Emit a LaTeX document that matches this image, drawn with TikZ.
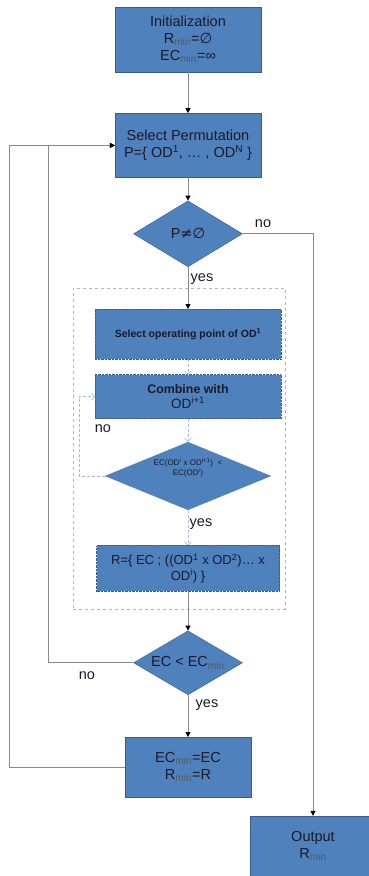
\documentclass[tikz,border=0pt]{standalone}
\usepackage{fontspec}
\setmainfont{Liberation Sans}
\newfontfamily\symfont{DejaVu Sans}
\usepackage{xcolor}
\usetikzlibrary{shapes.geometric, arrows.meta, positioning}
\definecolor{boxblue}{HTML}{4F81BD}
\definecolor{boxedge}{HTML}{385D8A}
\definecolor{linegray}{HTML}{8A8A8A}
\definecolor{innerline}{HTML}{A9BCD4}
\definecolor{framegray}{HTML}{B4B4B4}
\definecolor{txt}{HTML}{1A1A2A}
\newcommand{\mn}{\textsubscript{\textcolor{black!65}{min}}}
\newcommand{\empt}{{\symfont ∅}}
\tikzstyle{block} = [rectangle, minimum width=146pt, minimum height=65pt, align=center, draw=boxedge, fill=boxblue, text=txt, font=\fontsize{14.5}{17}\selectfont, inner sep=2pt]
\tikzstyle{subblock} = [rectangle, minimum width=186pt, align=center, draw=boxedge, densely dotted, fill=boxblue, text=txt, inner sep=2pt]
\tikzstyle{decision} = [diamond, minimum width=109pt, minimum height=66pt, aspect=1.65, inner sep=0pt, draw=boxedge, fill=boxblue, text=txt, font=\fontsize{14.5}{17}\selectfont]
\tikzstyle{frame} = [rectangle, draw=framegray, dashed, line width=0.6pt]
\tikzstyle{arrow} = [draw=linegray, line width=0.8pt, -{Triangle[length=5pt,width=5pt,color=black]}]
\tikzstyle{innerarrow} = [draw=innerline, densely dashed, line width=0.6pt, -{Straight Barb[length=3pt,width=7pt]}]
\tikzstyle{lbl} = [font=\fontsize{14.5}{17}\selectfont, text=txt, inner sep=0pt]

\begin{document}
\begin{tikzpicture}[x=1pt, y=-1pt]
    \useasboundingbox (0,0) rectangle (369,876);

    \node[block] (init) at (188,39.5) {Initialization\\R\mn=\empt\\EC\mn=∞};
    \node[block, minimum height=64pt, below=41pt of init] (sel) {Select Permutation\\P=\{ OD\textsuperscript{1}, \dots\ , OD\textsuperscript{N} \}};
    \node[decision, below=23pt of sel] (dP) {P{\symfont ≠∅}};

    % inner loop
    \node[frame, minimum width=212pt, minimum height=321pt] (grp) at (179,448.5) {};
    \node[subblock, minimum height=50pt, font=\bfseries\fontsize{10.5}{13}\selectfont, below=42pt of dP] (opt) {Select operating point of OD\textsuperscript{1}};
    \node[subblock, minimum height=44pt, font=\fontsize{13.5}{15}\selectfont, below=15pt of opt] (comb) {{\bfseries\fontsize{12.4}{15}\selectfont Combine with}\\OD\textsuperscript{i+1}};
    \node[decision, densely dotted, minimum width=166pt, minimum height=68pt, aspect=2.4, below=23pt of comb] (dEC) {};
    \node[font=\fontsize{8}{10}\selectfont, text=txt, align=center] (dECtxt) at ([yshift=8pt]dEC.center) {EC(OD\textsuperscript{i} x OD\textsuperscript{i+1})~~<\\EC(OD\textsuperscript{i})};
    \node[subblock, minimum width=183pt, minimum height=46pt, font=\fontsize{13}{15.5}\selectfont, below=35pt of dEC] (res) {R=\{ EC ; ((OD\textsuperscript{1} x OD\textsuperscript{2})… x\\OD\textsuperscript{i}) \}};

    \node[decision, minimum height=64pt, below=39pt of res] (dmin) {EC < EC\mn};
    \node[block, minimum width=126pt, minimum height=60pt, below=42pt of dmin] (upd) {EC\mn=EC\\R\mn=R};
    \node[block, minimum width=126pt, minimum height=60pt] (out) at (313,846) {Output\\R\mn};

    \node[lbl] (noP) at (263,224) {no};
    \node[lbl] (yesP) at (202,279) {yes};
    \node[lbl] (noEC) at (103,429) {no};
    \node[lbl] (yesEC) at (201,524) {yes};
    \node[lbl] (nomin) at (87,676) {no};
    \node[lbl] (yesmin) at (207,705) {yes};

    \draw[arrow] (init) -- (sel);
    \draw[arrow] (sel) -- (dP);
    \draw[arrow] (dP) -- (opt);
    \draw[arrow] (dP.east) -| (out.north);
    \draw[innerarrow] (opt) -- (comb);
    \draw[innerarrow] (comb) -- (dEC);
    \draw[innerarrow] (dEC.west) -- ++(-26,0) |- (comb.west);
    \draw[innerarrow] (dEC) -- (res);
    \draw[arrow] (res) -- (dmin);
    \draw[arrow] (dmin) -- (upd);
    \draw[arrow] (dmin.west) -- ++(-85,0) |- (sel.west);
    \draw[arrow] (upd.west) -- ++(-115,0) |- (sel.west);
\end{tikzpicture}
\end{document}
